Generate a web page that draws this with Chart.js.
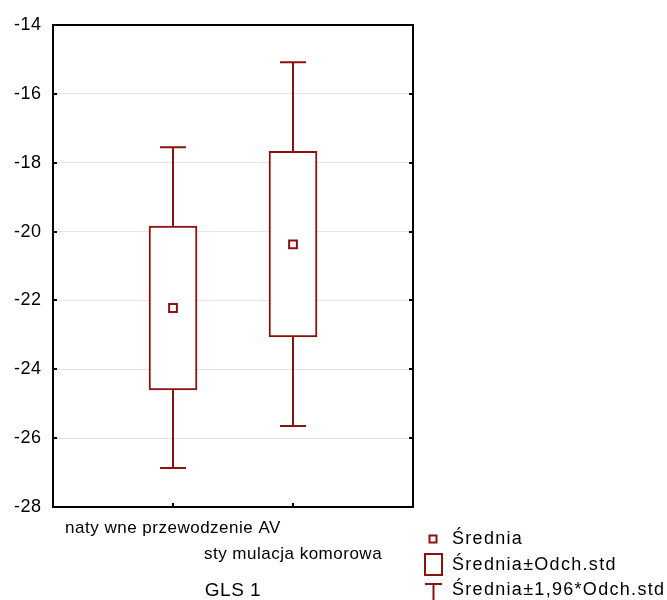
<!DOCTYPE html>
<html>
<head>
<meta charset="utf-8">
<script src="https://cdn.jsdelivr.net/npm/chart.js@4/dist/chart.umd.min.js"></script>
<style>
html,body{margin:0;padding:0;background:#fff;}
#wrap{width:667px;height:600px;position:relative;}
</style>
</head>
<body>
<div id="wrap"><canvas id="c" width="667" height="600"></canvas></div>
<script>
const categories = ['naty wne przewodzenie AV', 'sty mulacja komorowa'];
const means  = [-22.22, -20.37];
const sdLow  = [-24.60, -23.06];
const sdHigh = [-19.84, -17.67];
const ciLow  = [-26.87, -25.65];
const ciHigh = [-17.55, -15.08];
const yMin = -28, yMax = -14, yStep = 2;
const axisTitle = 'GLS 1';
const legendLabels = ['Średnia', 'Średnia±Odch.std', 'Średnia±1,96*Odch.std'];

const RED = '#8c1212';
const FONT = 'Liberation Sans, Arial, sans-serif';
const SP = '0.5px';

const labels = ['', ...categories, ''];
const boxData = [null, ...categories.map((_, i) => [sdLow[i], sdHigh[i]]), null];
const meanData = [null, ...means, null];

const whiskerPlugin = {
  id: 'whiskers',
  beforeUpdate(chart) { chart.ctx.letterSpacing = SP; },
  beforeLayout(chart) { chart.ctx.letterSpacing = SP; },
  beforeDraw(chart) { chart.ctx.letterSpacing = SP; },
  beforeDatasetsDraw(chart) {
    const ctx = chart.ctx, x = chart.scales.x, y = chart.scales.y;
    ctx.save();
    ctx.strokeStyle = RED; ctx.lineWidth = 2;
    categories.forEach((_, i) => {
      const px = Math.round(x.getPixelForValue(i + 1)) ;
      const top = y.getPixelForValue(ciHigh[i]);
      const bot = y.getPixelForValue(ciLow[i]);
      ctx.beginPath();
      ctx.moveTo(px, top); ctx.lineTo(px, bot);
      ctx.moveTo(px - 13, top); ctx.lineTo(px + 13, top);
      ctx.moveTo(px - 13, bot); ctx.lineTo(px + 13, bot);
      ctx.stroke();
    });
    ctx.restore();
  },
  afterDraw(chart) {
    const ctx = chart.ctx, a = chart.chartArea, x = chart.scales.x, y = chart.scales.y;
    ctx.save();
    ctx.strokeStyle = '#000'; ctx.lineWidth = 2;
    ctx.strokeRect(a.left, a.top, a.right - a.left, a.bottom - a.top);
    ctx.beginPath();
    y.ticks.forEach(t => {
      const py = Math.round(y.getPixelForValue(t.value));
      ctx.moveTo(a.left, py); ctx.lineTo(a.left + 4, py);
      ctx.moveTo(a.right, py); ctx.lineTo(a.right - 4, py);
    });
    categories.forEach((_, i) => {
      const px = Math.round(x.getPixelForValue(i + 1));
      ctx.moveTo(px, a.bottom); ctx.lineTo(px, a.bottom - 4);
    });
    ctx.stroke();

    // legend
    const lx = 433, tx = 452;
    const rows = [539, 565, 590];
    ctx.strokeStyle = RED; ctx.lineWidth = 2;
    ctx.fillStyle = '#fff';
    ctx.fillRect(lx - 3.5, rows[0] - 3.5, 7, 7);
    ctx.strokeRect(lx - 3.5, rows[0] - 3.5, 7, 7);
    ctx.strokeRect(lx - 8, rows[1] - 11, 17, 21);
    ctx.beginPath();
    ctx.moveTo(lx - 8, 584); ctx.lineTo(lx + 9, 584);
    ctx.moveTo(lx + 0.5, 584); ctx.lineTo(lx + 0.5, 600);
    ctx.stroke();
    ctx.fillStyle = '#000';
    ctx.font = '18px ' + FONT;
    ctx.letterSpacing = '1.3px';
    ctx.textBaseline = 'middle';
    ctx.textAlign = 'left';
    legendLabels.forEach((t, i) => ctx.fillText(t, tx, rows[i]));
    ctx.restore();
  }
};

new Chart(document.getElementById('c'), {
  type: 'bar',
  data: {
    labels,
    datasets: [
      {
        type: 'line',
        data: meanData,
        showLine: false,
        pointStyle: 'rect',
        pointRadius: 5.5,
        pointBorderWidth: 2,
        pointBackgroundColor: '#fff',
        pointBorderColor: RED,
        borderColor: RED,
        order: 0
      },
      {
        type: 'bar',
        data: boxData,
        backgroundColor: '#fff',
        borderColor: RED,
        borderWidth: 2,
        borderSkipped: false,
        barThickness: 48,
        order: 1
      }
    ]
  },
  options: {
    responsive: false,
    animation: false,
    events: [],
    layout: { padding: { top: 25, right: 254, left: 0, bottom: 0 } },
    plugins: { legend: { display: false }, tooltip: { enabled: false } },
    scales: {
      x: {
        type: 'category',
        offset: false,
        grid: { display: false, drawTicks: false },
        border: { display: false },
        ticks: {
          color: '#000',
          font: { family: FONT, size: 17, lineHeight: 1.53 },
          padding: 8,
          maxRotation: 0,
          autoSkip: false,
          callback(v, i) {
            if (i === 1) return [categories[0]];
            if (i === 2) return ['', categories[1]];
            return '';
          }
        },
        title: {
          display: true,
          text: axisTitle,
          color: '#000',
          font: { family: FONT, size: 19 },
          padding: { top: 0, bottom: -2 }
        },
        afterFit(s) { s.height = 93; }
      },
      y: {
        min: yMin, max: yMax,
        grid: { color: '#e4e4e4', lineWidth: 1, drawTicks: false },
        border: { display: false },
        ticks: {
          stepSize: yStep,
          color: '#000',
          font: { family: FONT, size: 18 },
          padding: 11.5
        },
        afterFit(s) { s.width = 53; }
      }
    }
  },
  plugins: [whiskerPlugin]
});
</script>
</body>
</html>
